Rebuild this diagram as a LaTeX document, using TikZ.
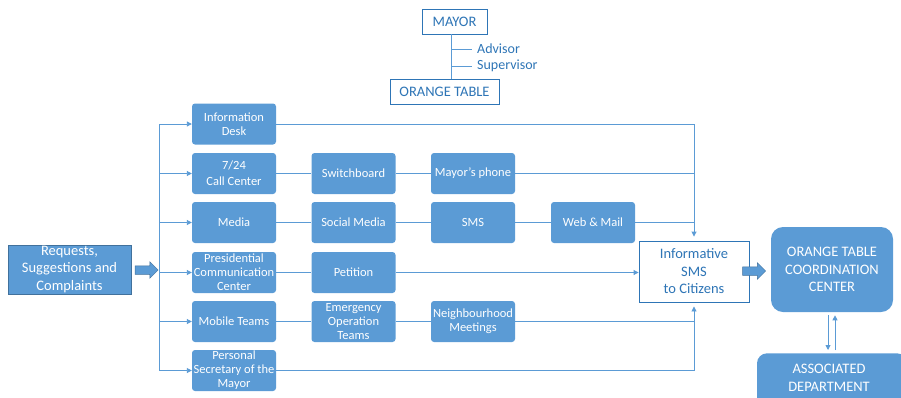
\documentclass[tikz,border=0pt]{standalone}
\usepackage{fontspec}
\setmainfont{Carlito}
\usetikzlibrary{arrows.meta,shapes.arrows}
\definecolor{boxblue}{RGB}{91,155,213}
\definecolor{edgeblue}{RGB}{65,113,156}
\definecolor{lineblue}{RGB}{91,155,213}
\definecolor{txtblue}{RGB}{46,117,182}
\tikzset{
  colbox/.style={fill=boxblue, draw=none, rounded corners=3pt, minimum width=84pt, minimum height=41pt,
    inner sep=1pt, align=center, text=white, font=\fontsize{12.5}{14}\selectfont},
  bigbox/.style={fill=boxblue, draw=edgeblue, line width=0.6pt, align=center, text=white,
    font=\fontsize{14.5}{17.5}\selectfont, inner sep=1pt},
  outbox/.style={fill=white, draw=txtblue, line width=0.9pt, align=center, text=txtblue,
    font=\fontsize{14.5}{17.5}\selectfont, inner sep=1pt},
  conn/.style={draw=lineblue, line width=0.9pt},
  arr/.style={conn, -{Triangle[length=5pt,width=5pt]}},
  fatarrow/.style={single arrow, fill=boxblue, draw=edgeblue, line width=0.5pt, minimum height=23pt,
    minimum width=16pt, inner sep=4pt, single arrow head extend=4pt},
  lbl/.style={text=txtblue, font=\fontsize{14}{17}\selectfont, inner sep=0pt, anchor=west}
}
\begin{document}
\begin{tikzpicture}[x=1pt,y=-1pt]
\useasboundingbox (0,0) rectangle (901,397);

% top hierarchy
\node[outbox, minimum width=65pt, minimum height=25pt] (mayor) at (454.5,21.5) {MAYOR};
\node[outbox, minimum width=109pt, minimum height=25pt] (ot) at (444.5,91.5) {ORANGE TABLE};
\coordinate (vx) at (451,0);
\draw[conn] (vx |- mayor.south) -- (vx |- ot.north);
\node[lbl] (adv) at (477,49) {Advisor};
\node[lbl] (sup) at (477,66) {Supervisor};
\draw[conn] (vx |- adv.west) -- ([xshift=-5pt]adv.west);
\draw[conn] (vx |- sup.west) -- ([xshift=-5pt]sup.west);

% requests
\node[bigbox, minimum width=123pt, minimum height=49pt] (req) at (69.5,269.5) {Requests,\\Suggestions and\\Complaints};
\node[fatarrow] (fa1) at (144.5,270) {};

% column 1
\node[colbox] (info) at (234,124) {Information\\Desk};
\node[colbox] (call) at (234,173.5) {7/24\\[2pt]Call Center};
\node[colbox] (media) at (234,222.5) {Media};
\node[colbox] (pres) at (234,272.5) {Presidential\\Communication\\Center};
\node[colbox] (mob) at (234,321.5) {Mobile Teams};
\node[colbox] (pers) at (234,370.5) {Personal\\Secretary of the\\Mayor};

% column 2
\node[colbox] (switch) at (353.5,173.5) {Switchboard};
\node[colbox] (social) at (353.5,222.5) {Social Media};
\node[colbox] (pet) at (353.5,272.5) {Petition};
\node[colbox] (emer) at (353.5,321.5) {Emergency\\Operation\\Teams};

% column 3
\node[colbox] (mphone) at (473,173.5) {Mayor’s phone};
\node[colbox] (sms) at (473,222.5) {SMS};
\node[colbox] (neigh) at (473,321.5) {Neighbourhood\\Meetings};

% column 4
\node[colbox] (web) at (593,222.5) {Web \& Mail};

% informative SMS
\node[outbox, minimum width=110pt, minimum height=61pt] (isms) at (694,271.5) {Informative\\SMS\\to Citizens};
\node[fatarrow] (fa2) at (752,271) {};

% coordination
\node[bigbox, draw=none, rounded corners=12pt, minimum width=122pt, minimum height=85pt] (otcc) at (832,269.5) {ORANGE TABLE\\COORDINATION\\CENTER};
\node[bigbox, draw=none, rounded corners=10pt, minimum width=150pt, minimum height=60pt, anchor=north] (assoc) at (832,353) {};
\node[text=white, font=\fontsize{14.5}{17.5}\selectfont, align=center, inner sep=0pt] (assoct) at (829,378) {ASSOCIATED\\DEPARTMENT};

% bus
\coordinate (bus) at (159,0);
\draw[conn] (bus |- info.west) -- (bus |- pers.west);
\foreach \n in {info,call,media,pres,mob,pers}
  \draw[arr] (bus |- \n.west) -- (\n.west);

% row connectors
\draw[conn] (call.east) -- (switch.west);
\draw[conn] (switch.east) -- (mphone.west);
\draw[conn] (media.east) -- (social.west);
\draw[conn] (social.east) -- (sms.west);
\draw[conn] (sms.east) -- (web.west);
\draw[conn] (pres.east) -- (pet.west);
\draw[conn] (mob.east) -- (emer.west);
\draw[conn] (emer.east) -- (neigh.west);

% to informative SMS
\draw[arr, shorten >=4pt] (info.east) -| (isms.north);
\draw[conn] (mphone.east) -- (mphone -| isms.north);
\draw[conn] (web.east) -- (web -| isms.north);
\draw[arr] (pet.east) -- (pet -| isms.west);
\draw[arr, shorten >=4pt] (pers.east) -| (isms.south);
\draw[conn] (neigh.east) -- (neigh -| isms.south);

% coordination <-> department
\draw[arr, shorten <=3pt, shorten >=3pt] ([xshift=-4pt]otcc.south) -- ([xshift=-4pt]otcc.south |- assoc.north);
\draw[arr, shorten <=3pt, shorten >=3pt] ([xshift=3pt]otcc.south |- assoc.north) -- ([xshift=3pt]otcc.south);
\end{tikzpicture}
\end{document}
